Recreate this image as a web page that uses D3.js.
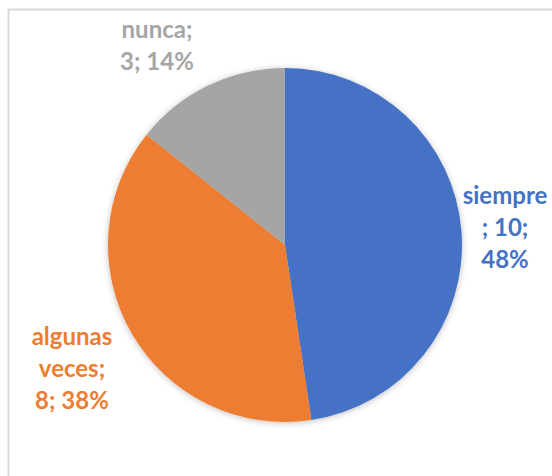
<!DOCTYPE html>
<html>
<head>
<meta charset="utf-8">
<script src="https://cdn.jsdelivr.net/npm/d3@7"></script>
<style>
  body { margin: 0; background: #fff; }
  svg { display: block; }
  .lbl { font-family: Lato, "Open Sans", sans-serif; font-weight: bold; font-size: 24px; }
</style>
</head>
<body>
<svg id="chart"></svg>
<script>
// chart data
var categories = ["siempre", "algunas veces", "nunca"];
var counts = [10, 8, 3];
var percents = ["48%", "38%", "14%"];
var colors = ["#4472C4", "#ED7D31", "#A5A5A5"];
// label text split into lines as the reference wraps them
var labelLines = [
  ["siempre", "; 10;", "48%"],
  ["algunas", "veces;", "8; 38%"],
  ["nunca;", "3; 14%"]
];

var width = 552,
    height = 476;

var cx = 285, cy = 245, radius = 177;

var svg = d3.select("#chart")
    .attr("width", width)
    .attr("height", height);

// soft shadow under the pie
var defs = svg.append("defs");
var f = defs.append("filter").attr("id", "shadow")
    .attr("x", "-10%").attr("y", "-10%").attr("width", "120%").attr("height", "120%");
f.append("feDropShadow")
    .attr("dx", 0).attr("dy", 1).attr("stdDeviation", 3)
    .attr("flood-color", "#000").attr("flood-opacity", 0.25);

// chart area border
svg.append("rect")
    .attr("x", 8.5).attr("y", 9.5)
    .attr("width", 700).attr("height", 700)
    .attr("fill", "none")
    .attr("stroke", "#D9D9D9")
    .attr("stroke-width", 2);

var pie = d3.pie().sort(null).value(function(d) { return d; });
var arc = d3.arc().innerRadius(0).outerRadius(radius);

var g = svg.append("g")
    .attr("transform", "translate(" + cx + "," + cy + ")");

g.append("g")
    .attr("filter", "url(#shadow)")
  .selectAll("path")
    .data(pie(counts))
  .enter().append("path")
    .attr("d", arc)
    .attr("fill", function(d, i) { return colors[i]; });

// label anchors (centre x, first baseline y)
var labelPos = [[505, 204], [72, 345], [157, 38]];
var lineH = 32;

labelLines.forEach(function(lines, i) {
  var t = svg.append("text")
      .attr("class", "lbl")
      .attr("text-anchor", "middle")
      .attr("fill", colors[i]);
  lines.forEach(function(s, j) {
    t.append("tspan")
        .attr("x", labelPos[i][0])
        .attr("y", labelPos[i][1] + j * lineH)
        .text(s);
  });
});
</script>
</body>
</html>
